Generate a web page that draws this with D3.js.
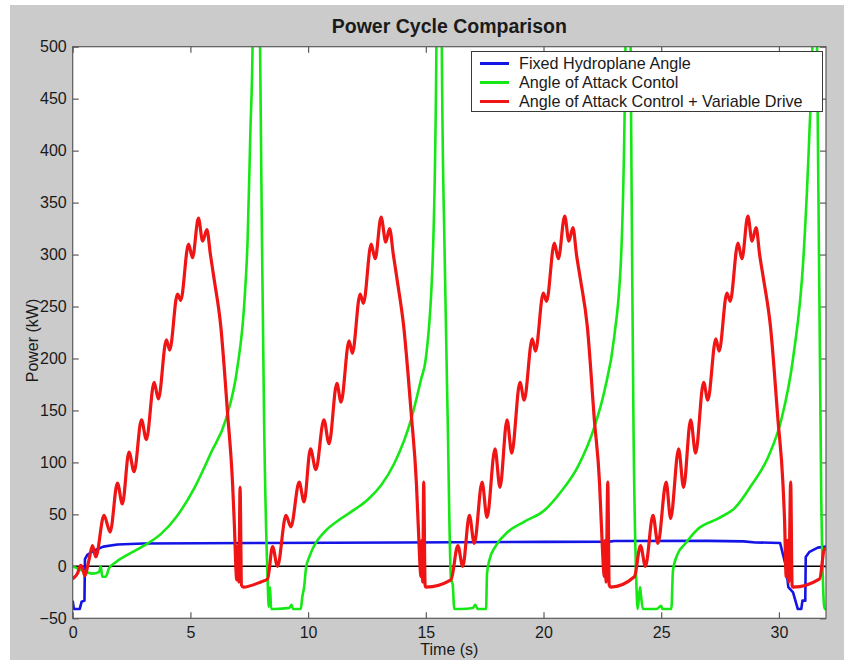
<!DOCTYPE html>
<html>
<head>
<meta charset="utf-8">
<script src="https://cdn.jsdelivr.net/npm/d3@7"></script>
<style>
  html, body { margin: 0; padding: 0; background: #ffffff; }
  svg { display: block; }
  text { font-family: "Liberation Sans", Arial, sans-serif; fill: #1a1a1a; }
</style>
</head>
<body>
<svg id="chart" width="844" height="660"></svg>
<script>
// ---------------- DATA ----------------
const title = "Power Cycle Comparison";
const xLabel = "Time (s)";
const yLabel = "Power (kW)";
const seriesNames = ["Fixed Hydroplane Angle", "Angle of Attack Contol", "Angle of Attack Control + Variable Drive"];
const xTicks = [0, 5, 10, 15, 20, 25, 30];
const yTicks = [-50, 0, 50, 100, 150, 200, 250, 300, 350, 400, 450, 500];

// Fixed Hydroplane Angle  [time s, power kW]
const blueData = [
  [0,-33],[0.05,-41],[0.3,-41],[0.38,-34],[0.5,-33],[0.52,7],[0.62,11],[0.9,15],[1.3,19],[1.9,21],
  [3.0,22],[8,22.5],[14,23],[20,23.5],[22.8,23.8],[23,24.4],[27,24.5],[28.5,24],[29.0,23],[30.05,22.5],
  [30.3,0],[30.4,-20],[30.6,-25],[30.8,-41],[30.95,-41],[31.0,-33],[31.12,-33],[31.14,9],[31.3,14],[31.65,18],[32,19]
];

// Angle of Attack Contol
const greenData = [
  [0,0],[0.3,-3],[0.55,-5.5],[0.84,-7],[1.12,-5.5],[1.19,0],[1.26,-10],[1.4,-10],[1.54,-2],[1.83,4],
  [2.32,11],[3.03,20],[3.74,31],[4.45,49],[5.16,75],[5.87,109],[6.5,141],[7.0,192],[7.28,250],[7.43,314],
  [7.55,420],[7.64,500],[7.75,800],[7.82,900],[7.88,700],[7.96,500],[8.04,314],[8.13,141],[8.28,-13],[8.33,-39],
  [8.38,-20],[8.43,-41],[8.6,-41],[9.2,-40],[9.3,-37],[9.35,-41],[9.69,-41],[9.75,-30],[9.83,-20],[9.91,-2],
  [10.05,9],[10.26,20],[10.69,33],[11.4,46],[12.0,55],[12.53,64],[13.1,78],[13.66,99],[14.37,141],[14.8,180],
  [15.0,200],[15.3,300],[15.45,500],[15.55,900],[15.62,800],[15.68,500],[15.8,300],[15.93,141],[16.07,-13],[16.14,-17],
  [16.21,-41],[16.5,-41],[17.0,-40],[17.1,-37],[17.2,-41],[17.56,-41],[17.6,-7],[17.7,6],[17.98,20],[18.48,33],
  [19.19,43],[20.04,54],[20.75,72],[21.46,96],[22.16,134],[22.6,170],[23.0,220],[23.3,300],[23.48,500],[23.58,900],
  [23.64,800],[23.7,500],[23.78,250],[23.82,141],[23.94,-13],[24.0,-41],[24.1,-20],[24.15,-30],[24.22,-41],[24.8,-41],
  [25.0,-38],[25.05,-41],[25.43,-41],[25.5,-4],[25.7,12],[25.99,21],[26.56,36],[27.41,46],[28.12,56],[28.83,78],
  [29.54,105],[30.1,141],[30.6,200],[31.05,300],[31.3,420],[31.42,500],[31.5,900],[31.56,800],[31.62,500],[31.8,63],
  [31.94,-41],[32,-41]
];

// Angle of Attack Control + Variable Drive
const redData = [
  [0,-12],[0.2,-7],[0.34,1],[0.42,-2],[0.51,-9],[0.69,6],[0.84,20],[0.98,9],[1.33,49],[1.59,33],
  [1.9,80],[2.11,60],[2.39,110],[2.61,91],[2.92,141],[3.13,122],[3.46,177],[3.64,161],[3.98,218],[4.12,208],
  [4.45,262],[4.59,256],[4.92,310],[5.09,297],[5.34,335],[5.52,313],[5.7,324],[5.85,300],[6.01,276],[6.29,231],
  [6.58,147],[6.79,80],[6.86,44],[6.97,-13],[7.02,20],[7.06,-15],[7.11,76],[7.17,-18],[7.25,-20],[7.99,-15],
  [8.28,-12],[8.49,19],[8.7,0],[9.06,49],[9.27,38],[9.62,81],[9.83,62],[10.1,113],[10.33,93],[10.67,141],
  [10.89,118],[11.22,176],[11.4,158],[11.74,217],[11.88,205],[12.21,262],[12.35,253],[12.68,310],[12.85,296],[13.1,336],
  [13.3,312],[13.46,325],[13.62,300],[13.78,276],[14.06,231],[14.38,147],[14.6,80],[14.67,44],[14.8,-10],[14.84,25],
  [14.87,-15],[14.91,81],[14.97,-18],[15.01,-20],[16.07,-13],[16.36,20],[16.57,0],[16.85,49],[17.06,22],[17.39,81],
  [17.6,47],[17.94,113],[18.15,76],[18.45,141],[18.65,109],[19.0,177],[19.18,160],[19.52,219],[19.66,207],[19.99,263],
  [20.13,255],[20.46,311],[20.63,296],[20.9,337],[21.08,313],[21.25,326],[21.4,300],[21.57,276],[21.86,231],[22.16,141],
  [22.38,80],[22.45,44],[22.59,-10],[22.63,25],[22.66,-15],[22.73,81],[22.79,-18],[22.85,-20],[23.86,-10],[24.12,20],
  [24.33,0],[24.65,49],[24.86,22],[25.21,81],[25.4,46],[25.74,113],[25.95,76],[26.25,141],[26.46,109],[26.8,177],
  [26.98,160],[27.32,219],[27.46,207],[27.79,263],[27.93,255],[28.26,311],[28.43,296],[28.68,337],[28.86,313],[29.03,326],
  [29.18,300],[29.35,276],[29.64,231],[29.96,141],[30.17,80],[30.24,44],[30.31,-10],[30.36,25],[30.42,-15],[30.5,81],
  [30.56,-18],[30.6,-20],[31.73,-12],[31.94,17],[32,15]
];

// ---------------- DRAWING ----------------
const svg = d3.select("#chart");
const W = 844, H = 660;
const plot = { left: 72.7, right: 826, top: 46.7, bottom: 618.3 };

// figure background (MATLAB grey)
svg.append("rect").attr("x", 10).attr("y", 5).attr("width", W - 10).attr("height", H - 5).attr("fill", "#cbcbcb");

const x = d3.scaleLinear().domain([0, 32]).range([plot.left, plot.right]);
const y = d3.scaleLinear().domain([-50, 500]).range([plot.bottom, plot.top]);

// axes area
svg.append("rect").attr("x", plot.left).attr("y", plot.top)
  .attr("width", plot.right - plot.left).attr("height", plot.bottom - plot.top).attr("fill", "#ffffff");

svg.append("clipPath").attr("id", "clip").append("rect")
  .attr("x", plot.left).attr("y", plot.top)
  .attr("width", plot.right - plot.left).attr("height", plot.bottom - plot.top);

const axisColor = "#5a5a5a";
const tickLen = 6;

// bottom axis
const gx = svg.append("g").attr("transform", `translate(0,${plot.bottom})`)
  .call(d3.axisBottom(x).tickValues(xTicks).tickSize(-tickLen).tickPadding(8).tickFormat(d3.format("d")));
// top axis (ticks only)
const gxt = svg.append("g").attr("transform", `translate(0,${plot.top})`)
  .call(d3.axisTop(x).tickValues(xTicks).tickSize(-tickLen).tickFormat(""));
// left axis
const gy = svg.append("g").attr("transform", `translate(${plot.left},0)`)
  .call(d3.axisLeft(y).tickValues(yTicks).tickSize(-tickLen).tickPadding(6).tickFormat(d3.format("d")));
// right axis (ticks only)
const gyr = svg.append("g").attr("transform", `translate(${plot.right},0)`)
  .call(d3.axisRight(y).tickValues(yTicks).tickSize(-tickLen).tickFormat(""));

[gx, gxt, gy, gyr].forEach(g => {
  g.select(".domain").remove();
  g.selectAll(".tick line").attr("stroke", axisColor).attr("stroke-width", 1.2);
  g.selectAll(".tick text").attr("font-size", 16).attr("fill", "#1a1a1a")
    .attr("font-family", "Liberation Sans, Arial, sans-serif");
});
gx.selectAll(".tick text").attr("dy", "0.75em");

// zero line
svg.append("line").attr("x1", x(0)).attr("x2", x(32)).attr("y1", y(0)).attr("y2", y(0))
  .attr("stroke", "#000000").attr("stroke-width", 1.5);

const line = d3.line().x(d => x(d[0])).y(d => y(d[1]));
const lines = svg.append("g").attr("clip-path", "url(#clip)");

lines.append("path").datum(blueData).attr("d", line.curve(d3.curveLinear)(blueData))
  .attr("fill", "none").attr("stroke", "#1414e6").attr("stroke-width", 2.6).attr("stroke-linejoin", "round");
lines.append("path").attr("d", d3.line().x(d => x(d[0])).y(d => y(d[1])).curve(d3.curveMonotoneX)(greenData))
  .attr("fill", "none").attr("stroke", "#16e816").attr("stroke-width", 2.6).attr("stroke-linejoin", "round");
lines.append("path").attr("d", d3.line().x(d => x(d[0])).y(d => y(d[1])).curve(d3.curveMonotoneX)(redData))
  .attr("fill", "none").attr("stroke", "#f01414").attr("stroke-width", 3.2).attr("stroke-linejoin", "round");

// axes box
svg.append("rect").attr("x", plot.left).attr("y", plot.top)
  .attr("width", plot.right - plot.left).attr("height", plot.bottom - plot.top)
  .attr("fill", "none").attr("stroke", axisColor).attr("stroke-width", 1.2);

// title & labels
svg.append("text").attr("x", (plot.left + plot.right) / 2).attr("y", 33)
  .attr("text-anchor", "middle").attr("font-size", 19.5).attr("font-weight", "bold").text(title);
svg.append("text").attr("x", (plot.left + plot.right) / 2).attr("y", 655)
  .attr("text-anchor", "middle").attr("font-size", 16).text(xLabel);
svg.append("text").attr("transform", `translate(38,${(plot.top + plot.bottom) / 2 + 8}) rotate(-90)`)
  .attr("text-anchor", "middle").attr("font-size", 16).text(yLabel);

// legend
const legColors = ["#1414e6", "#16e816", "#f01414"];
const leg = svg.append("g");
leg.append("rect").attr("x", 471.5).attr("y", 51.5).attr("width", 351).attr("height", 60)
  .attr("fill", "#ffffff").attr("stroke", "#3a3a3a").attr("stroke-width", 1);
seriesNames.forEach((name, i) => {
  const cy = 63.5 + i * 19;
  leg.append("line").attr("x1", 480).attr("x2", 509).attr("y1", cy).attr("y2", cy)
    .attr("stroke", legColors[i]).attr("stroke-width", 3);
  leg.append("text").attr("x", 519).attr("y", cy + 5.5).attr("font-size", 16.2).text(name);
});
</script>
</body>
</html>
